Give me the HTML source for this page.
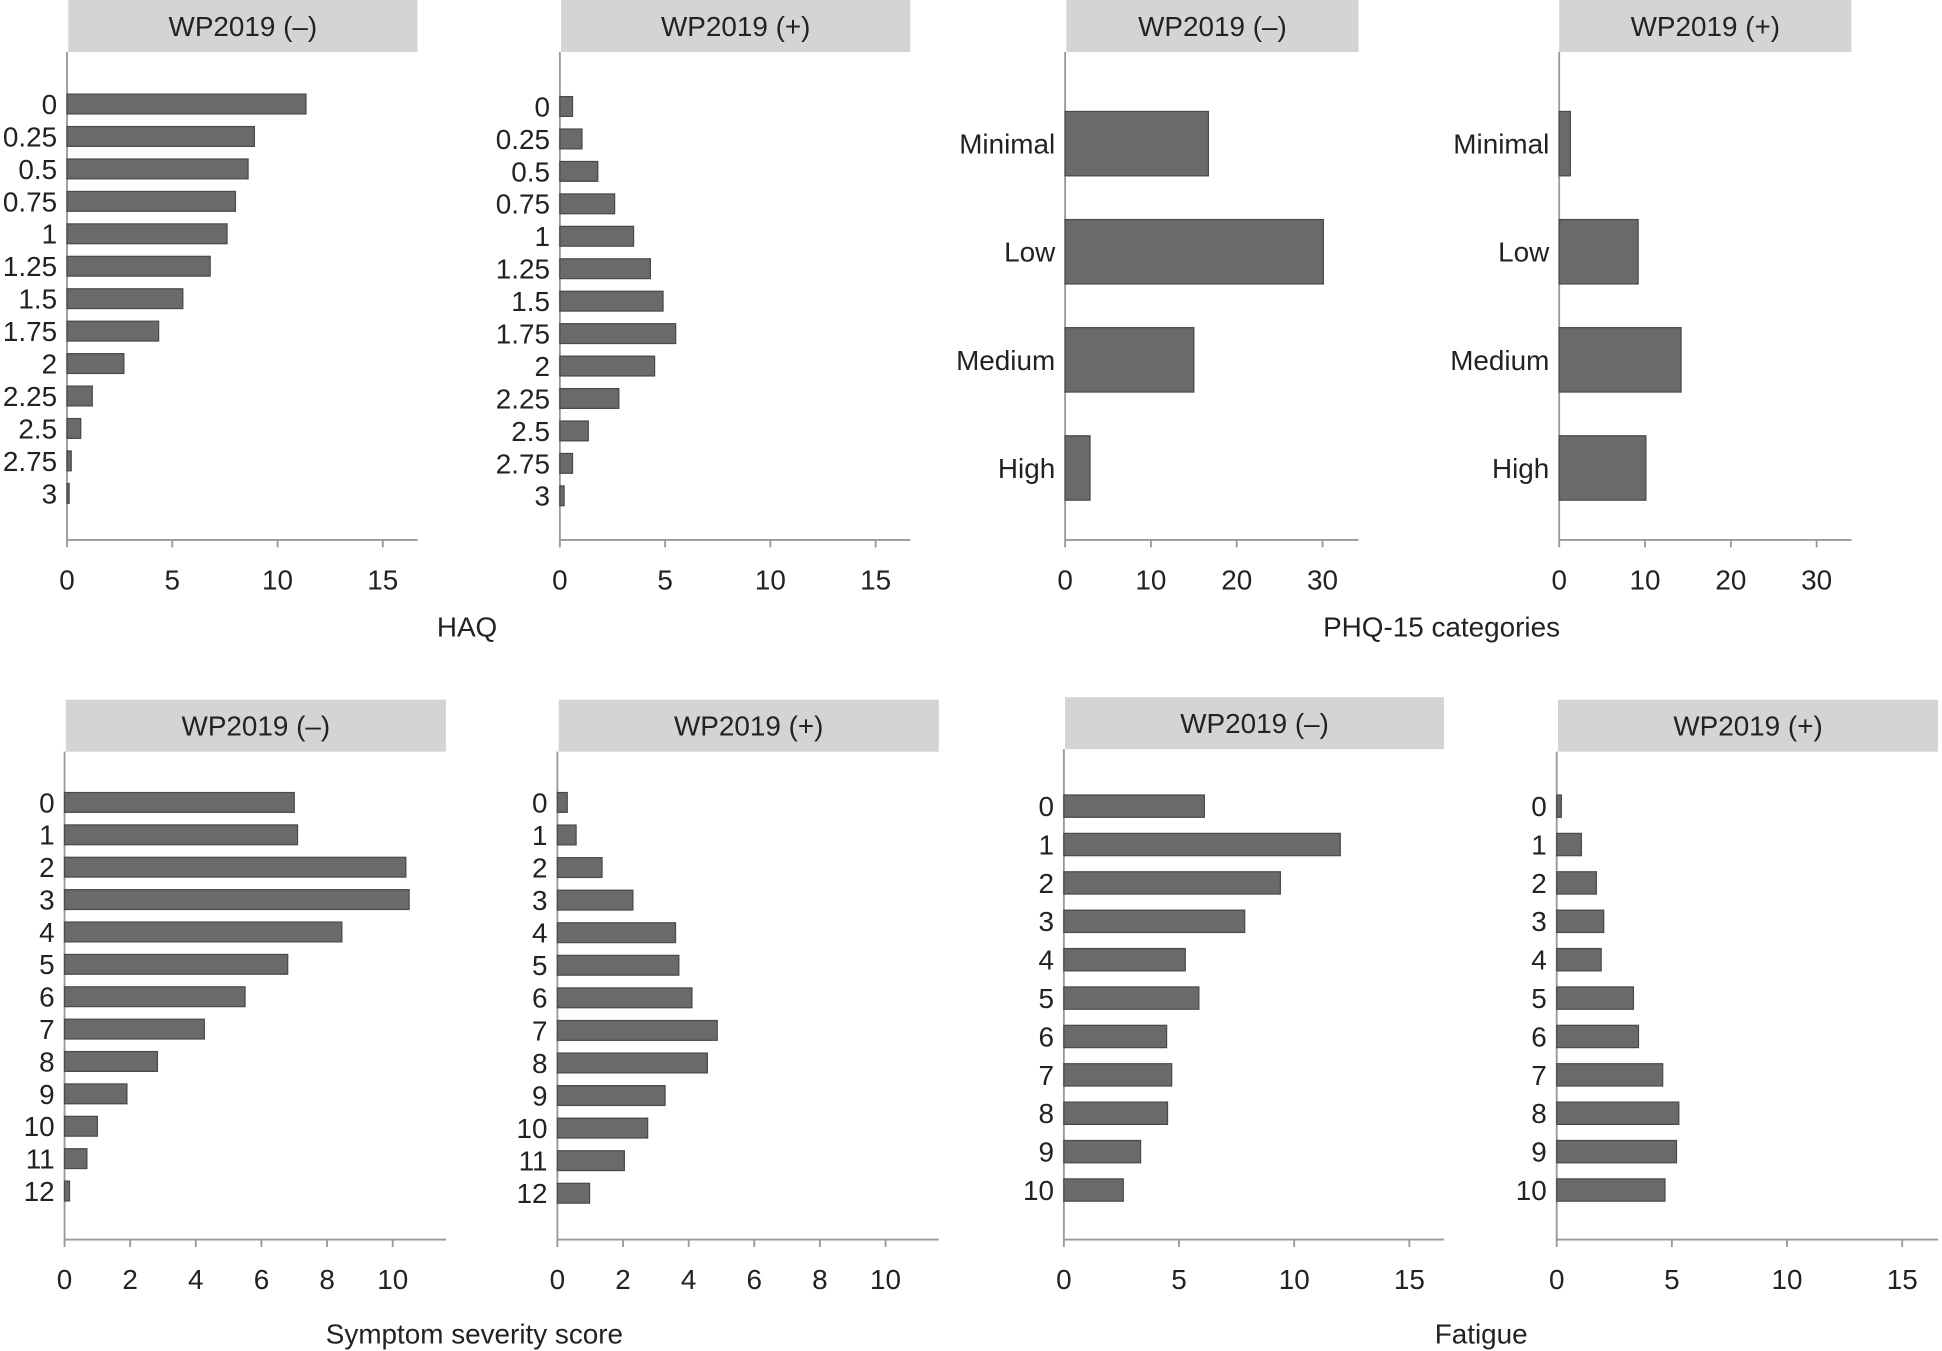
<!DOCTYPE html>
<html><head><meta charset="utf-8"><style>
html,body{margin:0;padding:0;background:#fff}
svg{display:block}
text{font-family:"Liberation Sans",Arial,sans-serif;fill:#222}
</style></head><body>
<svg id="s" width="1942" height="1351" viewBox="0 0 1568 1091" xmlns="http://www.w3.org/2000/svg"></svg>
<script>
var s=document.getElementById('s'),h='';var F=22.5;
function panel(o){
 h+='<rect x="'+o.hx1+'" y="'+o.hy+'" width="'+(o.hx2-o.hx1)+'" height="42" fill="#d4d4d4"/>';
 h+='<text x="'+((o.hx1+o.hx2)/2)+'" y="'+(o.hy+29)+'" font-size="'+F+'" text-anchor="middle">'+o.title+'</text>';
 h+='<line x1="'+o.ax+'" y1="'+(o.hy+42)+'" x2="'+o.ax+'" y2="'+o.ab+'" stroke="#999" stroke-width="1.5"/>';
 h+='<line x1="'+o.ax+'" y1="'+o.ab+'" x2="'+o.hx2+'" y2="'+o.ab+'" stroke="#999" stroke-width="1.5"/>';
 o.ticks.forEach(function(t){var x=o.ax+t*o.u;
  h+='<line x1="'+x+'" y1="'+o.ab+'" x2="'+x+'" y2="'+(o.ab+6)+'" stroke="#999" stroke-width="1.5"/>';
  h+='<text x="'+x+'" y="'+(o.ab+40)+'" font-size="'+F+'" text-anchor="middle">'+t+'</text>';});
 o.cats.forEach(function(c,i){var y=o.y0+i*o.dy;
  h+='<text x="'+(o.ax-8)+'" y="'+(y+8)+'" font-size="'+F+'" text-anchor="end">'+c+'</text>';
  var w=o.vals[i]*o.u;
  h+='<rect x="'+o.ax+'" y="'+(y-o.bh/2)+'" width="'+w+'" height="'+o.bh+'" fill="#6a6a6a" stroke="#4a4a4a" stroke-width="1"/>';});
}
var haq=['0','0.25','0.5','0.75','1','1.25','1.5','1.75','2','2.25','2.5','2.75','3'];
panel({title:'WP2019 (–)',hx1:55,hx2:337,hy:0,ax:54,ab:436,u:17,ticks:[0,5,10,15],cats:haq,y0:84,dy:26.2,bh:16,
 vals:[11.35,8.9,8.6,8.0,7.6,6.8,5.5,4.35,2.7,1.2,0.65,0.2,0.1]});
panel({title:'WP2019 (+)',hx1:453,hx2:735,hy:0,ax:452,ab:436,u:17,ticks:[0,5,10,15],cats:haq,y0:86,dy:26.2,bh:16,
 vals:[0.6,1.05,1.8,2.6,3.5,4.3,4.9,5.5,4.5,2.8,1.35,0.6,0.2]});
var phq=['Minimal','Low','Medium','High'];
panel({title:'WP2019 (–)',hx1:861,hx2:1097,hy:0,ax:860,ab:436,u:6.93,ticks:[0,10,20,30],cats:phq,y0:116,dy:87.3,bh:52,
 vals:[16.7,30.1,15.0,2.9]});
panel({title:'WP2019 (+)',hx1:1259,hx2:1495,hy:0,ax:1259,ab:436,u:6.93,ticks:[0,10,20,30],cats:phq,y0:116,dy:87.3,bh:52,
 vals:[1.3,9.2,14.2,10.1]});
var ss=['0','1','2','3','4','5','6','7','8','9','10','11','12'];
panel({title:'WP2019 (–)',hx1:53,hx2:360,hy:565,ax:52,ab:1001,u:26.5,ticks:[0,2,4,6,8,10],cats:ss,y0:648,dy:26.15,bh:16,
 vals:[7.0,7.1,10.4,10.5,8.45,6.8,5.5,4.26,2.83,1.9,1.0,0.68,0.15]});
panel({title:'WP2019 (+)',hx1:451,hx2:758,hy:565,ax:450,ab:1001,u:26.5,ticks:[0,2,4,6,8,10],cats:ss,y0:648,dy:26.3,bh:16,
 vals:[0.3,0.57,1.36,2.3,3.6,3.7,4.1,4.87,4.57,3.28,2.75,2.04,0.98]});
var fa=['0','1','2','3','4','5','6','7','8','9','10'];
panel({title:'WP2019 (–)',hx1:860,hx2:1166,hy:563,ax:859,ab:1001,u:18.6,ticks:[0,5,10,15],cats:fa,y0:651,dy:31,bh:18,
 vals:[6.1,12.0,9.4,7.85,5.27,5.86,4.46,4.68,4.5,3.33,2.58]});
panel({title:'WP2019 (+)',hx1:1258,hx2:1565,hy:565,ax:1257,ab:1001,u:18.6,ticks:[0,5,10,15],cats:fa,y0:651,dy:31,bh:18,
 vals:[0.2,1.07,1.72,2.04,1.93,3.33,3.55,4.6,5.3,5.2,4.7]});
h+='<text x="377" y="514" font-size="'+F+'" text-anchor="middle">HAQ</text>';
h+='<text x="1164" y="514" font-size="'+F+'" text-anchor="middle">PHQ-15 categories</text>';
h+='<text x="383" y="1085" font-size="'+F+'" text-anchor="middle">Symptom severity score</text>';
h+='<text x="1196" y="1085" font-size="'+F+'" text-anchor="middle">Fatigue</text>';
s.innerHTML=h;
</script>
</body></html>
